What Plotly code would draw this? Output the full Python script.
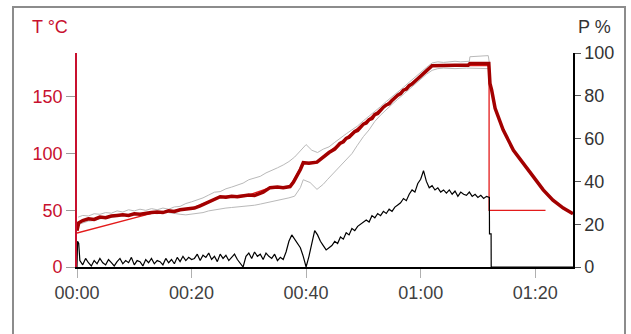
import numpy as np
import plotly.graph_objects as go

# ---- furnace run: measured temperature (°C) ----
T_MIN = [0, 0.3, 1, 2, 3, 4, 5, 6, 7, 8, 9, 10, 11, 12, 13, 14, 15, 16, 17, 18, 19.5, 20.5,
         21.5, 22.7, 24, 25, 26, 27, 28, 29, 30, 31, 32.5, 33.7, 35, 36, 37.2, 37.8, 38.4,
         39, 39.5, 40.5, 41.9, 43, 44, 45, 45.9, 46.5, 47, 47.5, 48, 48.5, 49, 49.5, 50,
         50.5, 51, 51.5, 52, 52.5, 53, 53.5, 54, 54.5, 55, 55.5, 56, 56.5, 57, 57.5, 58,
         58.5, 59, 59.5, 60, 61, 62, 64, 66, 68.3, 68.6, 70, 71.9, 72.1, 72.4, 73, 74.4,
         76.2, 77.9, 79.7, 81.4, 83.1, 84.9, 86.6]
T_MEAS = [32, 39, 41, 42.5, 42, 44, 43.5, 45, 45.5, 46, 45.5, 47, 46.5, 47.5, 48, 48.5,
          48, 49.5, 49, 50.5, 51, 52, 54, 57, 60, 62, 61.5, 62.5, 62, 63, 63.5, 63, 66, 70,
          70.5, 70, 71, 75, 80, 86, 92, 91.5, 92.5, 97, 101, 104, 109, 110.5, 113.5, 114.5,
          117.5, 119.5, 120.5, 123, 126, 127, 130, 131, 134.5, 135.5, 138.5, 141, 143, 144,
          147, 149.5, 151.5, 153, 156, 157, 160, 161.5, 164, 166.5, 168.5, 173, 177.5,
          178, 178, 178, 179.5, 179.5, 179.5, 162, 156, 140, 121, 103, 92, 79.5, 68, 59,
          52, 47]

# ---- setpoint program (°C) ----
SP_MIN = [0, 13.5, 20, 22.7, 25, 30, 33.7, 37.2, 39.5, 41.9, 62, 71.95, 71.95, 81.8]
SP_VAL = [30, 48, 51.5, 57, 62, 63.5, 70, 71, 92, 92.5, 177.5, 178, 50, 50]

# ---- upper / lower thermocouple readings (°C) ----
UP_MIN = [0.2, 1, 2, 3, 4, 5, 6, 7, 8, 9, 10, 11, 12, 13, 14, 15, 16, 17, 18, 19, 20, 21,
          22, 23, 24, 25, 26, 27, 28, 29, 30, 31, 32, 33, 34, 35, 36, 37, 38, 39, 40, 41,
          42, 43, 44, 45, 46, 47, 48, 49, 50, 51, 52, 53, 54, 55, 56, 57, 58, 59, 60, 61,
          62, 63, 64, 65, 66, 67, 68.5, 68.6, 70, 71.8, 72]
UP_VAL = [44, 45.5, 45, 47, 46.5, 48, 47.5, 49.5, 48.5, 50.5, 49.5, 51, 50, 51.5, 50.5, 52,
          51, 53, 53.5, 56, 57.5, 59, 61, 63.5, 66, 66.5, 69, 70.5, 72.5, 74, 77, 78.5, 80,
          83, 85, 87.5, 90, 93, 97, 103, 108, 103, 101, 104, 106, 110, 114, 117.5, 121,
          124.5, 129, 133, 137, 141.5, 146, 150, 154.5, 158.5, 163, 167.5, 172, 176, 180,
          181, 180.5, 181, 181.5, 181, 181.5, 185.5, 186, 186.5, 180]

LO_MIN = [0.2, 1, 2, 3, 4, 5, 6, 7, 8, 9, 10, 11, 12, 13, 14, 15, 16, 17, 18, 19, 20, 21,
          22, 23, 24, 25, 26, 27, 28, 29, 30, 31, 32, 33, 34, 35, 36, 37, 38, 39, 39.5, 40.7,
          41.9, 43, 43.7, 45, 46.5, 48, 48.9, 50, 51, 52, 53, 54, 55, 56, 57, 58, 59, 60,
          61, 62, 63, 64, 66, 68, 70, 71.9, 72]
LO_VAL = [37.5, 39, 40.5, 41, 42.5, 43, 44, 44.5, 45.5, 45, 46.5, 46, 47, 47.5, 47, 48.5,
          48, 47, 46.5, 46, 46.5, 47.5, 48, 49.5, 50.5, 51, 52, 52.5, 53, 53, 53.5, 54.5,
          55.5, 56.5, 57.5, 58.5, 59.5, 61, 62.5, 70, 77, 74.5, 68.5, 73, 77, 84, 92, 100,
          107, 115, 121, 128.5, 134, 139, 143.5, 148, 152.5, 157, 161.5, 166, 170, 173.5,
          175, 175.5, 175, 175.5, 175, 175, 178]

# ---- heater power (%), sampled every 0.5 min from 0.5 to 72 min ----
P_STEP = 0.5
P_PCT = [3, 1, 4, 2, 0.5, 3, 1.5, 4, 2, 1, 3.5, 2, 0.5, 2.5, 4, 1.5, 3, 2, 4.5, 1,
         3, 2.5, 0.5, 3.5, 2, 4, 1.5, 3, 2.5, 1, 4, 2, 3.5, 1.5, 4.5, 2.5, 5, 3, 4.5, 3.5,
         4, 6, 3, 5.5, 4.5, 6.5, 3.5, 5, 2.5, 6, 4, 5.5, 3, 4.5, 6, 3.5, 2, 0,
         5, 6.5, 4, 7, 5, 6, 3.5, 6.5, 5, 4, 6, 3, 4.5, 3.5,
         7, 12, 15, 13, 11.5, 9, 5, 0,
         5, 11, 17, 15, 12, 10, 8, 9,
         10, 12, 11, 14, 13, 16, 15, 18, 17, 19, 20, 21,
         22, 21, 24, 23, 25, 24, 26, 25, 27, 26, 28, 29,
         30, 32, 31, 34, 36, 35, 39, 41, 45,
         40, 37, 38, 36, 37, 35, 36, 34.5, 36, 34, 35.5, 33, 35, 34, 33.5, 35, 33, 34,
         32.5, 33.5, 32, 33, 32.5]
# start-up spike and switch-off at the end of the run
P_HEAD_MIN = [0, 0.1, 0.3]
P_HEAD_PCT = [0, 12, 11]
P_TAIL_MIN = [72.02, 72.3, 72.32, 86.6]
P_TAIL_PCT = [15.5, 15.5, 0, 0]

X_TICKS = [0, 20, 40, 60, 80]
X_LABELS = ["00:00", "00:20", "00:40", "01:00", "01:20"]
T_TICKS = [0, 50, 100, 150]
P_TICKS = [0, 20, 40, 60, 80, 100]

p_min = P_HEAD_MIN + list(np.arange(1, len(P_PCT) + 1) * P_STEP) + P_TAIL_MIN
p_pct = P_HEAD_PCT + P_PCT + P_TAIL_PCT

FONT = "Liberation Sans, Arial, sans-serif"
DARK_RED = "#a30000"
RED = "#e31b1b"
AXIS_RED = "#c8102e"

fig = go.Figure()
fig.add_trace(go.Scatter(x=UP_MIN, y=UP_VAL, mode="lines",
                         line=dict(color="#b9b9b9", width=1)))
fig.add_trace(go.Scatter(x=LO_MIN, y=LO_VAL, mode="lines",
                         line=dict(color="#b9b9b9", width=1)))
fig.add_trace(go.Scatter(x=SP_MIN, y=SP_VAL, mode="lines",
                         line=dict(color=RED, width=1.3)))
fig.add_trace(go.Scatter(x=T_MIN, y=T_MEAS, mode="lines",
                         line=dict(color=DARK_RED, width=3.5)))
fig.add_trace(go.Scatter(x=p_min, y=p_pct, mode="lines", yaxis="y2",
                         line=dict(color="black", width=1.2)))

fig.update_layout(
    width=631, height=334,
    margin=dict(l=77, r=58, t=53, b=67),
    paper_bgcolor="white", plot_bgcolor="white",
    showlegend=False,
    font=dict(family=FONT, size=18),
    xaxis=dict(range=[0, 86.6], showgrid=False, zeroline=False,
               showline=True, linecolor="black", linewidth=1.5,
               ticks="outside", ticklen=9, tickcolor="#b0b0b0", tickwidth=1,
               tickvals=X_TICKS, ticktext=X_LABELS,
               tickfont=dict(color="#404040", size=18)),
    yaxis=dict(range=[0, 188.8], showgrid=False, zeroline=False,
               showline=True, linecolor=AXIS_RED, linewidth=1.6,
               ticks="outside", ticklen=9, tickcolor="#9a9a9a", tickwidth=1,
               tickvals=T_TICKS, tickfont=dict(color=AXIS_RED, size=18)),
    yaxis2=dict(range=[0, 100], overlaying="y", side="right",
                showgrid=False, zeroline=False,
                showline=True, linecolor="black", linewidth=1.5,
                ticks="outside", ticklen=6, tickcolor="#555555", tickwidth=1,
                tickvals=P_TICKS, tickfont=dict(color="#333333", size=18)),
    shapes=[dict(type="rect", xref="paper", yref="paper",
                 x0=(13 - 77) / 496, x1=(625 - 77) / 496,
                 y0=-0.4, y1=(267 - 7) / 214,
                 line=dict(color="#8c8c8c", width=2), layer="below")],
    annotations=[
        dict(text="T °C", xref="paper", yref="paper",
             x=(50 - 77) / 496, y=(267 - 27) / 214, showarrow=False,
             xanchor="center", yanchor="middle",
             font=dict(color=AXIS_RED, size=18)),
        dict(text="P %", xref="paper", yref="paper",
             x=(594 - 77) / 496, y=(267 - 27) / 214, showarrow=False,
             xanchor="center", yanchor="middle",
             font=dict(color="#333333", size=18)),
    ],
)

fig.write_html("out.html")
